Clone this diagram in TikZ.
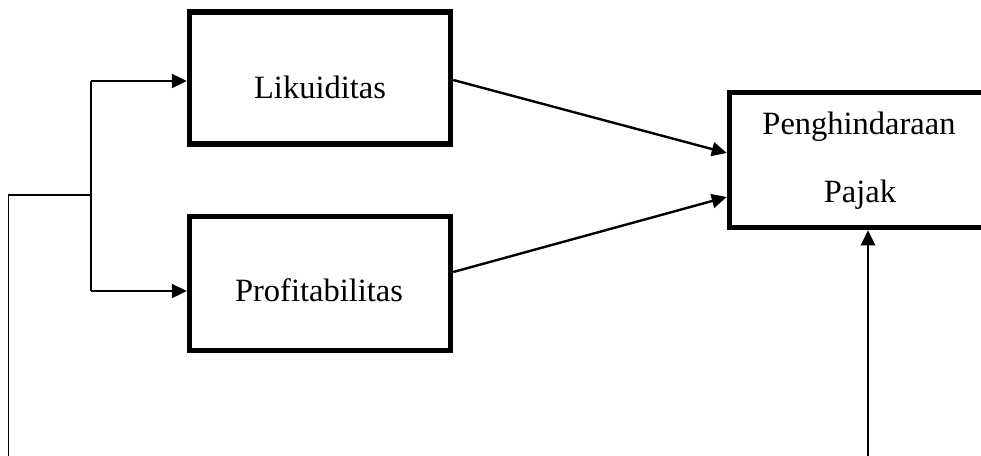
\documentclass[tikz,border=0pt]{standalone}
\usepackage{fontspec}
\setmainfont{Liberation Serif}
\usetikzlibrary{arrows.meta}
\begin{document}
\begin{tikzpicture}[x=1pt,y=-1pt,
  boxnode/.style={draw,line width=5.5pt,minimum width=261pt,inner sep=0pt},
  lbl/.style={anchor=base,inner sep=0pt,font=\fontsize{32.5}{38}\selectfont},
  arr/.style={line width=2.4pt,-{Triangle[length=15pt,width=14pt]}},
  thin/.style={line width=1.8pt}]
\useasboundingbox (0,0) rectangle (981,455);
\clip (0,0) rectangle (981,455);
\node[boxnode,minimum height=132pt] (lik) at (320,78) {};
\node[boxnode,minimum height=134pt] (prof) at (320,283.5) {};
\node[boxnode,minimum height=135pt] (pen) at (860,160) {};
\node[lbl] (tlik) at (320,98) {Likuiditas};
\node[lbl] (tprof) at (319,301) {Profitabilitas};
\node[lbl] (tpen1) at (859,134) {Penghindaraan};
\node[lbl] (tpen2) at (860,202) {Pajak};
\coordinate (b) at (8.5,456);
\coordinate (c) at (8.5,195);
\coordinate (jm) at (91,195);
\coordinate (j1) at (91,81);
\coordinate (j2) at (91,291);
\coordinate (u) at (868,456);
\draw[thin] (b) -- (c) -- (jm);
\draw[thin] (j1) -- (j2);
\draw[arr] (j1) -- ([yshift=-3pt]lik.west);
\draw[arr] (j2) -- ([yshift=-7.5pt]prof.west);
\draw[arr] ([yshift=-2pt]lik.east) -- ([yshift=7pt]pen.west);
\draw[arr] ([yshift=11.5pt]prof.east) -- ([yshift=-37pt]pen.west);
\draw[arr] (u) -- (u |- pen.south);
\end{tikzpicture}
\end{document}
